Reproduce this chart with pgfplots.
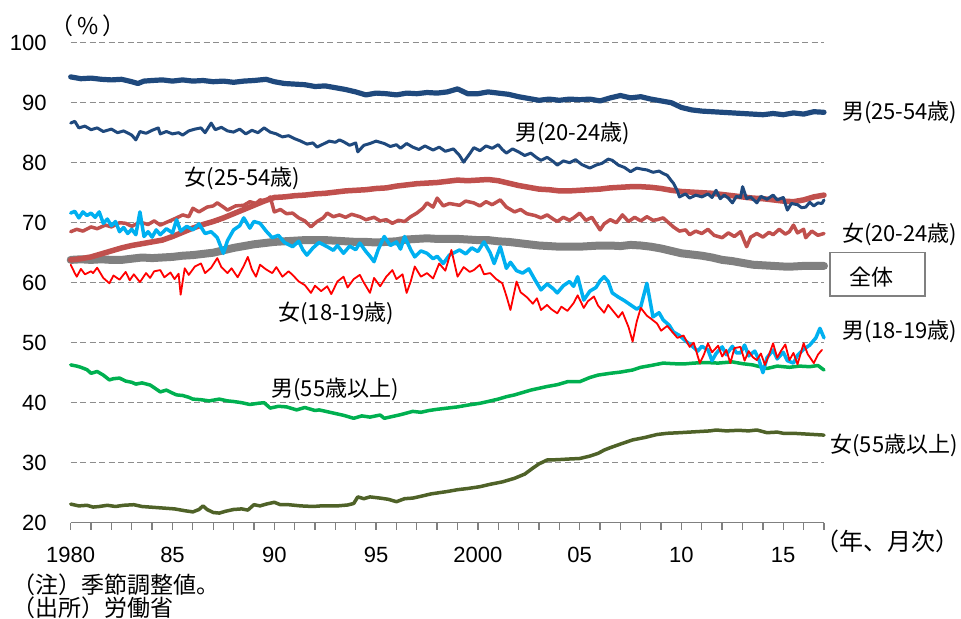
\documentclass[border=0pt]{standalone}
\usepackage{fontspec}
\setmainfont{Liberation Sans}
\newfontfamily\jp{Noto Sans CJK JP}
\usepackage{pgfplots}
\pgfplotsset{compat=1.18}
\definecolor{dblue}{HTML}{1F497D}
\definecolor{dred}{HTML}{C0504D}
\definecolor{cgray}{HTML}{808080}
\definecolor{ccyan}{HTML}{00B0F0}
\definecolor{cred}{HTML}{FF0000}
\definecolor{cgreen}{HTML}{00B050}
\definecolor{colive}{HTML}{4F6228}
\begin{document}
\begin{tikzpicture}
\path[use as bounding box] (0pt,0pt) rectangle (480.5pt,309.5pt);
\begin{axis}[
  at={(35.35pt,48.15pt)}, anchor=south west,
  scale only axis, width=376.65pt, height=240pt,
  xmin=1980, xmax=2017, ymin=20, ymax=100,
  clip=false,
  axis x line*=bottom, axis y line*=left,
  x axis line style={draw=cgray, line width=0.65pt},
  y axis line style={draw=none},
  xtick={1980,...,2017},
  xticklabels={1980,,,,,85,,,,,90,,,,,95,,,,,2000,,,,,05,,,,,10,,,,,15,,},
  ytick={20,30,...,100},
  tick align=outside,
  major tick length=3.5pt,
  xtick style={draw=cgray, line width=0.65pt},
  ytick style={draw=none},
  ymajorgrids,
  grid style={draw=cgray!90, line width=0.65pt, dash pattern=on 3pt off 1.75pt},
  tick label style={font=\fontsize{11}{13}\selectfont},
  /pgf/number format/assume math mode=true,
  xticklabel style={anchor=north, inner sep=0pt, yshift=-8.5pt},
  yticklabel style={anchor=east, inner sep=0pt, xshift=-8.3pt},
  every axis plot/.append style={no markers, line join=round, line cap=round},
]
% 全体
\addplot[cgray, line width=4pt] coordinates {
(1980.0,63.8)(1980.5,63.9)(1981.0,63.8)(1981.5,63.9)(1982.0,63.8)(1982.5,63.8)(1983.0,64.0)(1983.5,64.2)(1984.0,64.1)(1984.5,64.2)(1985.0,64.3)(1985.5,64.5)(1986.0,64.6)(1986.5,64.8)(1987.0,65.0)(1987.5,65.4)(1988.0,65.8)(1988.5,66.1)(1989.0,66.4)(1989.5,66.6)(1990.0,66.8)(1990.5,66.9)(1991.0,67.0)(1991.5,67.1)(1992.0,67.1)(1992.5,67.1)(1993.0,67.0)(1993.5,66.9)(1994.0,66.8)(1994.5,66.8)(1995.0,66.7)(1995.5,66.8)(1996.0,66.9)(1996.5,67.2)(1997.0,67.3)(1997.5,67.4)(1998.0,67.3)(1998.5,67.3)(1999.0,67.3)(1999.5,67.2)(2000.0,67.1)(2000.5,67.1)(2001.0,66.9)(2001.5,66.8)(2002.0,66.6)(2002.5,66.4)(2003.0,66.2)(2003.5,66.1)(2004.0,66.0)(2004.5,66.0)(2005.0,66.0)(2005.5,66.1)(2006.0,66.2)(2006.5,66.2)(2007.0,66.1)(2007.5,66.3)(2008.0,66.2)(2008.5,66.0)(2009.0,65.7)(2009.5,65.3)(2010.0,64.9)(2010.5,64.7)(2011.0,64.5)(2011.5,64.2)(2012.0,63.8)(2012.5,63.6)(2013.0,63.3)(2013.5,63.0)(2014.0,62.9)(2014.5,62.8)(2015.0,62.7)(2015.5,62.7)(2016.0,62.8)(2016.5,62.8)(2017.0,62.8)
};
% 女20-24
\addplot[dred, line width=1.75pt] coordinates {
(1980.0,68.5)(1980.3,68.9)(1980.6,68.6)(1981.0,69.3)(1981.3,69.0)(1981.7,69.6)(1982.0,69.3)(1982.4,70.0)(1982.7,69.9)(1983.0,69.4)(1983.4,70.1)(1983.8,69.7)(1984.1,70.3)(1984.4,69.6)(1984.8,70.2)(1985.2,70.8)(1985.5,71.3)(1985.8,71.0)(1986.0,72.4)(1986.3,71.8)(1986.7,72.6)(1987.0,72.8)(1987.2,73.3)(1987.5,72.6)(1987.7,72.1)(1988.1,72.8)(1988.5,72.9)(1988.8,73.5)(1989.1,73.2)(1989.3,73.8)(1989.6,73.6)(1989.8,74.3)(1990.0,71.8)(1990.3,72.2)(1990.6,71.5)(1990.9,71.6)(1991.2,70.8)(1991.5,70.3)(1991.8,69.3)(1992.1,70.2)(1992.4,70.8)(1992.6,71.6)(1992.9,71.0)(1993.2,71.3)(1993.5,70.9)(1993.8,71.4)(1994.2,71.0)(1994.5,70.5)(1994.9,70.9)(1995.2,70.3)(1995.5,70.5)(1995.8,69.9)(1996.1,70.4)(1996.4,70.2)(1996.7,71.0)(1997.0,71.6)(1997.3,72.4)(1997.5,73.3)(1997.8,72.6)(1998.0,74.1)(1998.3,72.8)(1998.6,73.2)(1999.1,72.9)(1999.4,73.6)(1999.8,73.3)(2000.1,72.8)(2000.4,73.5)(2000.7,73.0)(2001.1,73.8)(2001.4,72.6)(2001.8,71.8)(2002.1,72.2)(2002.4,71.5)(2002.8,71.2)(2003.1,70.8)(2003.4,71.3)(2003.7,70.6)(2003.9,70.2)(2004.2,70.9)(2004.5,70.4)(2004.7,70.8)(2005.0,71.6)(2005.3,70.4)(2005.6,70.9)(2006.0,68.8)(2006.2,69.8)(2006.5,70.5)(2006.8,70.0)(2007.1,71.3)(2007.4,70.2)(2007.7,70.9)(2008.0,70.3)(2008.3,71.0)(2008.6,70.4)(2008.8,70.5)(2009.1,70.8)(2009.4,69.9)(2009.6,69.3)(2009.9,68.6)(2010.2,68.8)(2010.4,68.0)(2010.7,68.6)(2011.0,68.2)(2011.3,68.9)(2011.6,67.9)(2012.0,67.5)(2012.3,68.3)(2012.6,67.7)(2012.9,68.5)(2013.2,66.0)(2013.4,67.6)(2013.7,68.2)(2014.0,67.6)(2014.3,68.4)(2014.5,68.0)(2014.8,68.9)(2015.1,68.1)(2015.3,68.5)(2015.5,69.6)(2015.7,68.3)(2016.0,68.9)(2016.1,67.5)(2016.4,68.6)(2016.7,67.9)(2017.0,68.2)
};
% 女55+
\addplot[colive, line width=1.75pt] coordinates {
(1980.0,23.1)(1980.4,22.8)(1980.8,22.9)(1981.1,22.6)(1981.4,22.7)(1981.8,22.9)(1982.2,22.7)(1982.6,22.9)(1983.1,23.0)(1983.5,22.7)(1983.9,22.6)(1984.3,22.5)(1984.7,22.4)(1985.1,22.3)(1985.6,22.0)(1986.0,21.8)(1986.3,22.2)(1986.5,22.8)(1986.7,22.2)(1987.0,21.7)(1987.3,21.6)(1987.6,21.9)(1988.0,22.2)(1988.4,22.3)(1988.7,22.1)(1989.0,23.0)(1989.3,22.8)(1989.6,23.1)(1990.0,23.4)(1990.3,23.0)(1990.7,23.0)(1991.0,22.9)(1991.3,22.8)(1991.9,22.7)(1992.3,22.8)(1992.7,22.8)(1993.1,22.8)(1993.6,22.95)(1993.9,23.2)(1994.1,24.3)(1994.4,24.0)(1994.7,24.3)(1995.2,24.1)(1995.6,23.9)(1996.0,23.5)(1996.4,24.0)(1996.8,24.1)(1997.2,24.4)(1997.7,24.8)(1998.1,25.0)(1998.5,25.2)(1999.0,25.5)(1999.5,25.7)(2000.1,26.0)(2000.6,26.4)(2001.2,26.8)(2001.8,27.4)(2002.3,28.1)(2002.7,29.1)(2003.0,29.8)(2003.4,30.45)(2003.9,30.5)(2004.4,30.6)(2005.0,30.7)(2005.5,31.1)(2005.9,31.55)(2006.2,32.1)(2006.5,32.5)(2007.0,33.1)(2007.6,33.8)(2008.2,34.2)(2008.8,34.7)(2009.3,34.9)(2009.9,35.0)(2010.4,35.1)(2010.9,35.2)(2011.4,35.3)(2011.7,35.45)(2012.2,35.3)(2012.8,35.4)(2013.3,35.3)(2013.7,35.45)(2014.2,35.0)(2014.7,35.1)(2015.0,34.9)(2015.5,34.9)(2016.0,34.8)(2016.5,34.7)(2017.0,34.6)
};
% 男55+
\addplot[cgreen, line width=1.75pt] coordinates {
(1980.0,46.3)(1980.3,46.1)(1980.5,45.9)(1980.8,45.5)(1981.0,44.9)(1981.3,45.2)(1981.6,44.6)(1981.9,43.8)(1982.1,44.0)(1982.4,44.1)(1982.7,43.6)(1983.0,43.4)(1983.2,43.1)(1983.5,43.3)(1983.9,42.95)(1984.1,42.5)(1984.4,41.8)(1984.7,42.1)(1985.0,41.6)(1985.2,41.3)(1985.5,41.2)(1985.8,40.9)(1986.0,40.6)(1986.4,40.5)(1986.8,40.3)(1987.3,40.6)(1987.7,40.3)(1988.0,40.2)(1988.4,40.0)(1988.8,39.7)(1989.2,39.9)(1989.5,40.0)(1989.8,39.1)(1990.2,39.4)(1990.6,39.3)(1991.1,38.8)(1991.5,39.2)(1992.0,38.7)(1992.2,38.8)(1992.6,38.5)(1993.0,38.2)(1993.4,37.9)(1993.9,37.4)(1994.3,37.8)(1994.7,37.6)(1995.2,37.95)(1995.4,37.4)(1995.8,37.7)(1996.2,38.0)(1996.8,38.55)(1997.2,38.4)(1997.6,38.7)(1998.0,38.9)(1998.5,39.1)(1999.0,39.3)(1999.5,39.6)(2000.1,39.9)(2000.5,40.2)(2001.0,40.6)(2001.4,41.0)(2001.8,41.3)(2002.2,41.7)(2002.6,42.1)(2003.0,42.4)(2003.4,42.7)(2003.9,43.0)(2004.4,43.5)(2005.0,43.5)(2005.5,44.2)(2005.9,44.6)(2006.5,44.9)(2007.0,45.1)(2007.6,45.45)(2008.0,45.9)(2008.5,46.2)(2009.1,46.6)(2009.6,46.5)(2010.1,46.45)(2010.6,46.6)(2011.2,46.7)(2011.8,46.6)(2012.5,46.8)(2013.0,46.5)(2013.5,46.3)(2014.2,45.7)(2014.7,46.1)(2015.3,45.9)(2015.8,46.1)(2016.3,46.0)(2016.7,46.2)(2017.0,45.45)
};
% 男25-54
\addplot[dblue, line width=2.6pt] coordinates {
(1980.0,94.3)(1980.5,94.0)(1981.0,94.1)(1981.5,93.9)(1982.0,93.8)(1982.5,93.9)(1983.0,93.5)(1983.3,93.2)(1983.6,93.6)(1984.0,93.7)(1984.5,93.8)(1985.0,93.6)(1985.5,93.8)(1986.0,93.6)(1986.5,93.7)(1987.0,93.5)(1987.5,93.6)(1988.0,93.4)(1988.5,93.6)(1989.0,93.7)(1989.6,93.9)(1990.0,93.5)(1990.5,93.2)(1991.0,93.1)(1991.5,93.0)(1992.0,92.7)(1992.5,92.8)(1993.0,92.5)(1993.5,92.2)(1994.0,91.8)(1994.5,91.3)(1995.0,91.6)(1995.5,91.5)(1996.0,91.3)(1996.5,91.6)(1997.0,91.5)(1997.5,91.7)(1998.0,91.6)(1998.5,91.8)(1999.0,92.3)(1999.5,91.5)(2000.0,91.5)(2000.5,91.8)(2001.0,91.6)(2001.5,91.4)(2002.0,91.0)(2002.5,90.7)(2003.0,90.4)(2003.5,90.6)(2004.0,90.4)(2004.5,90.6)(2005.0,90.5)(2005.5,90.6)(2006.0,90.3)(2006.5,90.8)(2007.0,91.2)(2007.5,90.8)(2008.0,91.0)(2008.5,90.6)(2009.0,90.3)(2009.5,90.0)(2010.0,89.2)(2010.5,88.8)(2011.0,88.6)(2011.5,88.5)(2012.0,88.4)(2012.5,88.3)(2013.0,88.2)(2013.5,88.1)(2014.0,88.0)(2014.5,88.2)(2015.0,88.0)(2015.5,88.3)(2016.0,88.1)(2016.5,88.5)(2017.0,88.4)
};
% 女25-54
\addplot[dred, line width=2.75pt] coordinates {
(1980.0,63.8)(1980.5,64.0)(1981.0,64.3)(1981.5,64.8)(1982.0,65.3)(1982.5,65.8)(1983.0,66.2)(1983.5,66.5)(1984.0,66.8)(1984.5,67.1)(1985.0,67.7)(1985.5,68.4)(1986.0,69.1)(1986.5,69.7)(1987.0,70.2)(1987.5,70.8)(1988.0,71.5)(1988.5,72.2)(1989.0,72.9)(1989.5,73.6)(1990.0,74.2)(1990.5,74.3)(1991.0,74.5)(1991.5,74.6)(1992.0,74.8)(1992.5,74.9)(1993.0,75.1)(1993.5,75.3)(1994.0,75.4)(1994.5,75.5)(1995.0,75.7)(1995.5,75.8)(1996.0,76.1)(1996.5,76.3)(1997.0,76.5)(1997.5,76.6)(1998.0,76.7)(1998.5,76.9)(1999.0,77.1)(1999.5,77.0)(2000.0,77.1)(2000.5,77.2)(2001.0,77.0)(2001.5,76.6)(2002.0,76.2)(2002.5,75.9)(2003.0,75.6)(2003.5,75.5)(2004.0,75.3)(2004.5,75.3)(2005.0,75.4)(2005.5,75.5)(2006.0,75.6)(2006.5,75.8)(2007.0,75.9)(2007.5,76.0)(2008.0,76.0)(2008.5,75.9)(2009.0,75.7)(2009.5,75.4)(2010.0,75.2)(2010.5,75.1)(2011.0,75.0)(2011.5,74.9)(2012.0,74.7)(2012.5,74.5)(2013.0,74.3)(2013.5,74.1)(2014.0,74.0)(2014.5,73.8)(2015.0,73.6)(2015.5,73.5)(2016.0,73.8)(2016.5,74.3)(2017.0,74.6)
};
% 男20-24
\addplot[dblue, line width=1.5pt] coordinates {
(1980.0,86.6)(1980.2,86.9)(1980.4,85.8)(1980.7,86.1)(1981.0,85.5)(1981.3,85.8)(1981.6,85.2)(1982.0,85.6)(1982.3,85.0)(1982.6,85.3)(1983.0,84.6)(1983.2,83.8)(1983.4,85.2)(1983.7,84.9)(1984.0,85.4)(1984.3,85.8)(1984.4,84.8)(1984.7,85.2)(1985.0,84.8)(1985.3,85.0)(1985.5,84.6)(1985.8,85.3)(1986.1,85.6)(1986.4,85.8)(1986.6,85.0)(1986.9,86.6)(1987.1,85.5)(1987.4,85.9)(1987.7,85.3)(1988.0,85.1)(1988.3,85.6)(1988.6,84.8)(1988.9,85.4)(1989.2,85.0)(1989.5,85.8)(1989.8,85.1)(1990.1,84.8)(1990.4,84.3)(1990.7,84.5)(1991.0,84.0)(1991.3,83.6)(1991.6,83.1)(1991.9,83.3)(1992.1,82.6)(1992.4,83.1)(1992.7,83.6)(1993.0,83.4)(1993.2,83.8)(1993.4,83.5)(1993.7,82.9)(1994.0,83.3)(1994.1,81.8)(1994.4,82.9)(1994.7,83.2)(1995.0,83.6)(1995.4,83.2)(1995.7,82.7)(1996.0,83.0)(1996.2,82.4)(1996.5,83.2)(1996.8,82.6)(1997.1,82.2)(1997.4,82.8)(1997.8,82.1)(1998.1,82.6)(1998.4,81.9)(1998.8,82.3)(1999.1,81.2)(1999.3,80.1)(1999.6,81.5)(1999.8,82.5)(2000.1,82.0)(2000.4,82.8)(2000.7,82.4)(2001.0,83.0)(2001.2,82.2)(2001.4,81.6)(2001.7,82.3)(2002.0,81.8)(2002.3,81.2)(2002.6,81.6)(2002.9,80.8)(2003.1,80.4)(2003.4,80.9)(2003.7,80.2)(2003.9,79.6)(2004.2,80.3)(2004.5,80.0)(2004.8,80.5)(2005.1,79.7)(2005.5,79.1)(2005.8,79.6)(2006.1,79.9)(2006.4,80.6)(2006.6,80.4)(2006.9,79.6)(2007.2,79.2)(2007.5,78.5)(2007.8,79.1)(2008.1,78.9)(2008.3,78.8)(2008.6,78.4)(2008.9,78.6)(2009.1,78.2)(2009.3,77.9)(2009.5,77.0)(2009.6,76.6)(2009.8,75.3)(2009.9,74.3)(2010.2,74.8)(2010.4,74.1)(2010.7,74.6)(2011.0,74.3)(2011.3,74.8)(2011.5,74.2)(2011.7,75.4)(2011.9,74.0)(2012.1,74.6)(2012.3,74.1)(2012.5,73.3)(2012.7,74.4)(2012.9,74.2)(2013.0,76.0)(2013.2,74.0)(2013.4,74.3)(2013.7,73.3)(2013.9,74.4)(2014.2,73.9)(2014.5,74.6)(2014.7,73.8)(2015.0,74.2)(2015.2,72.1)(2015.4,73.2)(2015.7,73.0)(2015.9,72.5)(2016.1,72.6)(2016.3,73.4)(2016.5,72.8)(2016.7,73.3)(2016.9,73.2)(2017.0,73.8)
};
% 男18-19
\addplot[ccyan, line width=1.75pt] coordinates {
(1980.0,71.6)(1980.2,71.9)(1980.4,70.8)(1980.6,71.8)(1980.8,71.2)(1981.0,71.6)(1981.2,70.9)(1981.4,71.8)(1981.6,69.9)(1981.8,70.6)(1982.0,69.5)(1982.2,70.2)(1982.4,68.5)(1982.6,69.2)(1982.8,68.2)(1983.0,68.9)(1983.2,68.0)(1983.4,71.8)(1983.6,67.7)(1983.8,68.5)(1984.0,67.6)(1984.2,68.8)(1984.4,68.0)(1984.7,69.0)(1985.0,68.3)(1985.2,70.5)(1985.4,68.6)(1985.7,69.4)(1986.0,68.8)(1986.3,69.8)(1986.6,68.2)(1986.9,68.5)(1987.2,67.5)(1987.5,64.9)(1987.7,67.0)(1988.0,68.8)(1988.3,69.5)(1988.5,70.8)(1988.8,69.1)(1989.0,70.2)(1989.3,69.9)(1989.6,68.6)(1989.9,67.5)(1990.2,67.9)(1990.5,66.7)(1990.9,66.0)(1991.2,66.9)(1991.4,65.5)(1991.6,64.6)(1991.9,65.8)(1992.2,66.7)(1992.6,66.0)(1992.9,65.4)(1993.1,66.2)(1993.4,64.9)(1993.7,66.1)(1994.0,65.5)(1994.2,66.6)(1994.5,65.2)(1994.7,64.4)(1994.9,63.5)(1995.1,65.5)(1995.4,67.7)(1995.7,66.2)(1996.0,66.8)(1996.2,65.6)(1996.4,67.7)(1996.7,65.5)(1996.9,64.3)(1997.2,65.3)(1997.5,64.9)(1997.8,64.0)(1998.0,64.4)(1998.3,63.2)(1998.6,64.6)(1999.1,65.45)(1999.4,64.8)(1999.7,65.8)(2000.0,65.2)(2000.3,66.8)(2000.6,65.0)(2000.8,63.2)(2001.1,66.0)(2001.4,62.4)(2001.6,63.4)(2001.9,62.0)(2002.2,61.6)(2002.5,62.3)(2002.8,60.5)(2003.1,58.8)(2003.4,59.8)(2003.7,59.0)(2003.9,58.3)(2004.2,59.5)(2004.5,60.2)(2004.7,59.4)(2004.9,61.0)(2005.2,57.1)(2005.5,58.6)(2005.8,59.2)(2006.0,60.3)(2006.2,61.0)(2006.4,60.2)(2006.6,58.3)(2006.9,57.6)(2007.2,57.0)(2007.5,56.3)(2007.8,55.6)(2008.0,56.0)(2008.3,59.9)(2008.6,54.3)(2008.9,55.0)(2009.1,53.8)(2009.4,52.9)(2009.6,51.8)(2009.9,51.2)(2010.2,50.3)(2010.5,49.5)(2010.8,48.6)(2011.0,49.4)(2011.3,48.8)(2011.5,47.0)(2011.7,48.2)(2012.0,49.3)(2012.2,48.0)(2012.5,49.4)(2012.7,48.3)(2012.9,48.3)(2013.1,49.6)(2013.3,47.8)(2013.6,48.6)(2013.8,47.2)(2014.0,45.0)(2014.2,47.5)(2014.5,48.8)(2014.7,47.3)(2015.0,48.4)(2015.2,47.0)(2015.5,46.6)(2015.7,47.9)(2016.0,48.9)(2016.3,49.6)(2016.6,50.8)(2016.8,52.4)(2017.0,50.8)
};
% 女18-19
\addplot[cred, line width=0.9pt] coordinates {
(1980.0,63.0)(1980.2,61.6)(1980.3,61.0)(1980.5,62.3)(1980.7,61.4)(1981.0,61.9)(1981.1,61.6)(1981.3,62.5)(1981.6,60.8)(1981.9,59.9)(1982.1,61.2)(1982.4,60.5)(1982.7,61.8)(1982.9,60.4)(1983.1,61.4)(1983.4,60.1)(1983.7,61.6)(1983.9,60.8)(1984.1,61.9)(1984.4,62.1)(1984.6,60.9)(1984.9,61.7)(1985.1,60.6)(1985.3,61.5)(1985.4,58.0)(1985.6,62.4)(1985.8,61.3)(1986.1,62.7)(1986.4,63.2)(1986.6,61.6)(1986.9,62.5)(1987.2,64.1)(1987.4,62.6)(1987.7,61.6)(1987.9,62.4)(1988.2,60.9)(1988.5,62.8)(1988.7,64.3)(1988.9,62.2)(1989.1,61.0)(1989.3,63.0)(1989.6,62.2)(1989.9,61.6)(1990.1,62.6)(1990.4,61.0)(1990.7,61.9)(1990.9,61.3)(1991.2,60.2)(1991.5,59.6)(1991.8,58.3)(1992.0,59.5)(1992.3,58.6)(1992.6,59.4)(1992.8,58.1)(1993.1,60.2)(1993.4,61.0)(1993.6,59.2)(1993.9,60.6)(1994.2,61.3)(1994.4,60.0)(1994.7,58.3)(1994.9,60.8)(1995.2,59.4)(1995.5,61.0)(1995.8,62.1)(1996.0,60.6)(1996.3,61.4)(1996.5,58.3)(1996.7,60.2)(1996.9,62.7)(1997.2,61.0)(1997.5,61.6)(1997.8,60.7)(1998.1,63.2)(1998.4,62.0)(1998.7,65.45)(1999.0,61.0)(1999.3,62.6)(1999.6,61.8)(1999.8,62.1)(2000.1,63.0)(2000.3,61.4)(2000.6,61.6)(2000.9,60.6)(2001.2,59.9)(2001.4,57.8)(2001.6,55.45)(2001.9,60.2)(2002.1,58.4)(2002.4,57.6)(2002.7,56.5)(2002.9,57.4)(2003.1,55.45)(2003.4,56.3)(2003.6,55.6)(2003.9,54.9)(2004.1,56.0)(2004.4,55.3)(2004.7,56.6)(2004.9,57.9)(2005.2,55.8)(2005.4,56.9)(2005.7,57.7)(2005.9,56.2)(2006.2,55.0)(2006.4,56.3)(2006.6,55.45)(2006.9,54.2)(2007.1,55.1)(2007.4,52.6)(2007.6,50.2)(2007.8,53.5)(2008.0,55.8)(2008.3,54.5)(2008.5,54.0)(2008.8,53.2)(2009.0,52.0)(2009.3,52.8)(2009.6,51.6)(2009.8,50.8)(2010.1,51.2)(2010.4,49.3)(2010.6,50.0)(2010.9,46.6)(2011.1,48.0)(2011.3,49.9)(2011.5,48.4)(2011.8,49.5)(2012.0,47.7)(2012.2,48.8)(2012.4,46.6)(2012.6,49.1)(2012.9,49.3)(2013.1,47.0)(2013.3,48.6)(2013.5,47.6)(2013.7,47.1)(2013.9,48.2)(2014.1,46.3)(2014.3,48.0)(2014.5,49.9)(2014.7,47.5)(2014.9,48.7)(2015.1,49.7)(2015.3,47.1)(2015.5,48.3)(2015.7,46.4)(2016.0,49.9)(2016.2,48.1)(2016.5,46.6)(2016.7,48.0)(2016.9,48.8)
};
\end{axis}
% texts (1px = 0.5pt)
\begin{scope}[every node/.style={inner sep=0pt, font=\jp\fontsize{11}{13}\selectfont}]
\node[font=\jp\fontsize{11.5}{13}\selectfont] at (44pt,296.5pt) {（\,\%\,）};
\node[anchor=west, font=\jp\fontsize{12}{14}\selectfont] at (407.5pt,38.65pt) {（年、月次）};
\node[anchor=west, font=\jp\fontsize{11.5}{14}\selectfont] at (6pt,17pt) {（注）季節調整値。};
\node[anchor=west, font=\jp\fontsize{11.5}{14}\selectfont] at (6pt,5.6pt) {（出所）労働省};
\node[anchor=west] at (420.8pt,253.35pt) {男(25-54歳)};
\node[anchor=west] at (420.8pt,192.35pt) {女(20-24歳)};
\node[anchor=west] at (420.8pt,143.65pt) {男(18-19歳)};
\node[anchor=west] at (415pt,87pt) {女(55歳以上)};
\draw[cgray, line width=0.75pt] (415pt,161.5pt) rectangle (462.5pt,183.15pt);
\node at (435.85pt,171pt) {全体};
\node[anchor=west] at (92.2pt,220.5pt) {女(25-54歳)};
\node[anchor=west] at (257.3pt,243pt) {男(20-24歳)};
\node[anchor=west] at (139pt,153pt) {女(18-19歳)};
\node[anchor=west] at (135.5pt,115pt) {男(55歳以上)};
\end{scope}
\end{tikzpicture}
\end{document}
